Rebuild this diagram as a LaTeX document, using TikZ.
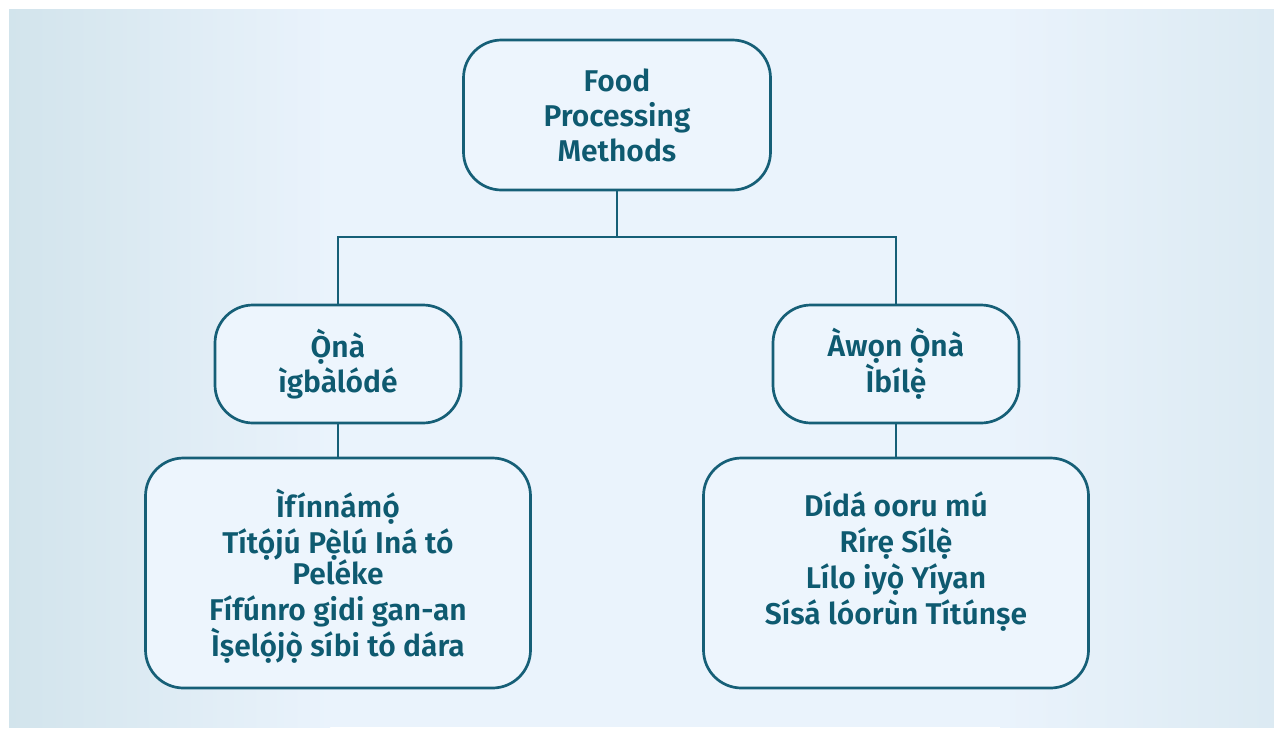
\documentclass[tikz,border=0pt]{standalone}
\usepackage{fontspec}
\setmainfont{Fira Sans}[BoldFont={Fira Sans SemiBold}]
\definecolor{tealline}{HTML}{165F77}
\definecolor{tealtext}{HTML}{0E5A70}
\definecolor{bgmid}{HTML}{EAF3FC}
\definecolor{bgedge}{HTML}{D2E4EC}
\definecolor{boxfill}{HTML}{EDF5FD}
\tikzset{
  catbox/.style={draw=tealline, line width=2.7pt, rounded corners=38pt,
    fill=boxfill, align=center, text=tealtext, inner sep=0pt,
    font=\bfseries\fontsize{30}{35}\selectfont},
  listtext/.style={align=center, text=tealtext, inner sep=0pt, anchor=north,
    font=\bfseries\fontsize{30}{36}\selectfont},
  link/.style={draw=tealline, line width=2.7pt},
}
\begin{document}
\begin{tikzpicture}[x=1pt,y=-1pt]
  \useasboundingbox (0,0) rectangle (1274,729);
  \fill[white] (0,0) rectangle (1274,729);
  \fill[bgmid] (9,9) rectangle (1274,727);
  \shade[left color=bgedge, right color=bgmid] (9,9) rectangle (330,727);
  \shade[left color=bgmid, right color=bgedge!60!bgmid] (1000,9) rectangle (1274,727);
  % boxes
  \node[catbox, minimum width=307pt, minimum height=150pt] (root) at (617,115)
    {Food\\Processing\\Methods};
  \node[catbox, minimum width=246pt, minimum height=118pt] (modern) at (338,364)
    {Ọ̀nà\\ìgbàlódé};
  \node[catbox, minimum width=246pt, minimum height=118pt] (native) at (896,364)
    {Àwọn Ọ̀nà\\Ìbílẹ̀};
  \node[catbox, minimum width=385pt, minimum height=230pt] (modernlist) at (338,573) {};
  \node[catbox, minimum width=385pt, minimum height=230pt] (nativelist) at (896,573) {};
  \node[listtext] (modernitems) at (338,489)
    {Ìfínnámọ́\\Títọ́jú Pẹ̀lú Iná tó\\[-5pt]Peléke\\Fífúnro gidi gan-an\\Ìṣelọ́jọ̀ síbi tó dára};
  \node[listtext] (nativeitems) at (896,491)
    {Dídá ooru mú\\Rírẹ Sílẹ̀\\Lílo iyọ̀ Yíyan\\Sísá lóorùn Títúnṣe};
  % connectors
  \coordinate (bus) at (617,237);
  \draw[link] (root.south) -- (bus) -| (modern.north);
  \draw[link] (bus) -| (native.north);
  \draw[link] (modern.south) -- (modernlist.north);
  \draw[link] (native.south) -- (nativelist.north);
\end{tikzpicture}
\end{document}
